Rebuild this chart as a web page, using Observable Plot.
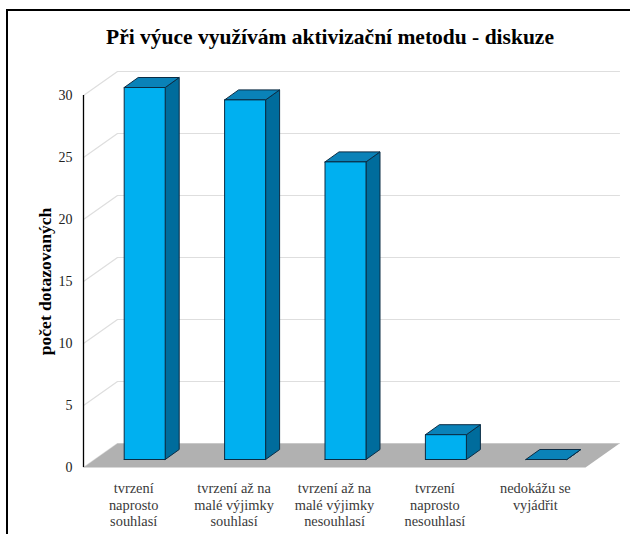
<!DOCTYPE html>
<html>
<head>
<meta charset="utf-8">
<script src="https://cdn.jsdelivr.net/npm/d3@7"></script>
<script src="https://cdn.jsdelivr.net/npm/@observablehq/plot@0.6"></script>
<style>
  html, body { margin: 0; padding: 0; background: #fff; }
  #wrap { position: relative; width: 630px; height: 534px; overflow: hidden; background: #fff; }
  #frame { position: absolute; left: 6px; top: 9px; width: 700px; height: 600px;
           border-left: 2px solid #000; border-top: 2px solid #000; }
  #title { position: absolute; left: 0; top: 24px; width: 660px; text-align: center;
           font-family: "Liberation Serif", "Times New Roman", serif; font-weight: bold;
           font-size: 21.5px; line-height: 26px; color: #000; z-index: 2; }
  #chart { position: absolute; left: 0; top: 0; }
</style>
</head>
<body>
<div id="wrap">
  <div id="frame"></div>
  <div id="chart"></div>
  <div id="title">Při výuce využívám aktivizační metodu - diskuze</div>
</div>
<script>
// ---- data ----
const categories = [
  "tvrzení\nnaprosto\nsouhlasí",
  "tvrzení až na\nmalé výjimky\nsouhlasí",
  "tvrzení až na\nmalé výjimky\nnesouhlasí",
  "tvrzení\nnaprosto\nnesouhlasí",
  "nedokážu se\nvyjádřit"
];
const values = [30, 29, 24, 2, 0];
const yTicks = [0, 5, 10, 15, 20, 25, 30];
const yLabel = "počet dotazovaných";

// ---- layout (pixels) ----
const W = 630, H = 534;
const mL = 83, mR = 45, mT = 95, mB = 67;
const xDomain = [-0.5, categories.length - 0.5];
const yDomain = [0, 30];
const kx = (W - mL - mR) / (xDomain[1] - xDomain[0]);   // px per x unit
const ky = (H - mT - mB) / (yDomain[1] - yDomain[0]);   // px per y unit

// depth offsets in pixels (right, up)
const floorDepth = [34, 24];
const barFront = [11, 8];
const barBack = [25, 18];
const halfW = 20.5;

function sh(x, y, d) { return [x + d[0] / kx, y + d[1] / ky]; }
function poly(id, pts) {
  const out = pts.map(([x, y]) => ({id, x, y}));
  out.push({id, x: pts[0][0], y: pts[0][1]});
  return out;
}

const xL = xDomain[0], xR = xDomain[1];
const floor = poly("floor", [[xL, 0], [xR, 0], sh(xR, 0, floorDepth), sh(xL, 0, floorDepth)]);
const grid = yTicks.flatMap(v => {
  const pts = [[xL, v], sh(xL, v, floorDepth), sh(xR, v, floorDepth)];
  return pts.map(([x, y]) => ({id: "g" + v, x, y}));
});

const hw = halfW / kx;
const fronts = [], tops = [], sides = [];
values.forEach((v, i) => {
  const fl0 = sh(i - hw, 0, barFront), fr0 = sh(i + hw, 0, barFront);
  const flv = sh(i - hw, v, barFront), frv = sh(i + hw, v, barFront);
  const br0 = sh(i + hw, 0, barBack);
  const blv = sh(i - hw, v, barBack), brv = sh(i + hw, v, barBack);
  sides.push(...poly("s" + i, [fr0, br0, brv, frv]));
  tops.push(...poly("t" + i, [flv, frv, brv, blv]));
  if (v > 0) fronts.push(...poly("f" + i, [fl0, fr0, frv, flv]));
});

const labels = categories.map((c, i) => ({i, c}));
const outline = "#0a2c44";
const serif = "'Liberation Serif', 'Times New Roman', serif";

const chart = Plot.plot({
  width: W, height: H,
  marginLeft: mL, marginRight: mR, marginTop: mT, marginBottom: mB,
  style: {background: "transparent", overflow: "visible"},
  x: {type: "linear", domain: xDomain, axis: null},
  y: {type: "linear", domain: yDomain, axis: null},
  marks: [
    Plot.line(grid, {x: "x", y: "y", z: "id", stroke: "#dedede", strokeWidth: 1.2}),
    Plot.line(floor, {x: "x", y: "y", z: "id", fill: "#b1b1b1", stroke: "none"}),
    Plot.ruleX([xL], {y1: yDomain[0], y2: yDomain[1], stroke: "#000", strokeWidth: 1.3}),
    Plot.axisY({ticks: yTicks, tickSize: 0, tickPadding: 11, tickFormat: d => String(d), label: null,
      fill: "#222", fontSize: 14}),
    Plot.line(sides, {x: "x", y: "y", z: "id", fill: "#006c9c", stroke: outline, strokeWidth: 1, strokeLinejoin: "miter"}),
    Plot.line(tops, {x: "x", y: "y", z: "id", fill: "#0a82b8", stroke: outline, strokeWidth: 1, strokeLinejoin: "miter"}),
    Plot.line(fronts, {x: "x", y: "y", z: "id", fill: "#00b0f0", stroke: outline, strokeWidth: 1, strokeLinejoin: "miter"}),
    Plot.text(labels, {x: "i", y: () => 0, text: "c", dy: 14, lineAnchor: "top", lineHeight: 1.15,
      fontSize: 14.4, fill: "#3a3a3a", textAnchor: "middle"}),
    Plot.text([yLabel], {frameAnchor: "left", text: d => d, rotate: -90, dx: -38,
      textAnchor: "middle", lineAnchor: "middle", fontWeight: "bold", fontSize: 17.5, fill: "#000"})
  ]
});
chart.style.setProperty("font-family", serif, "important");
chart.querySelectorAll("g, text, tspan").forEach(el => {
  el.removeAttribute("font-family");
  el.style.setProperty("font-family", serif, "important");
});
document.getElementById("chart").appendChild(chart);
</script>
</body>
</html>
